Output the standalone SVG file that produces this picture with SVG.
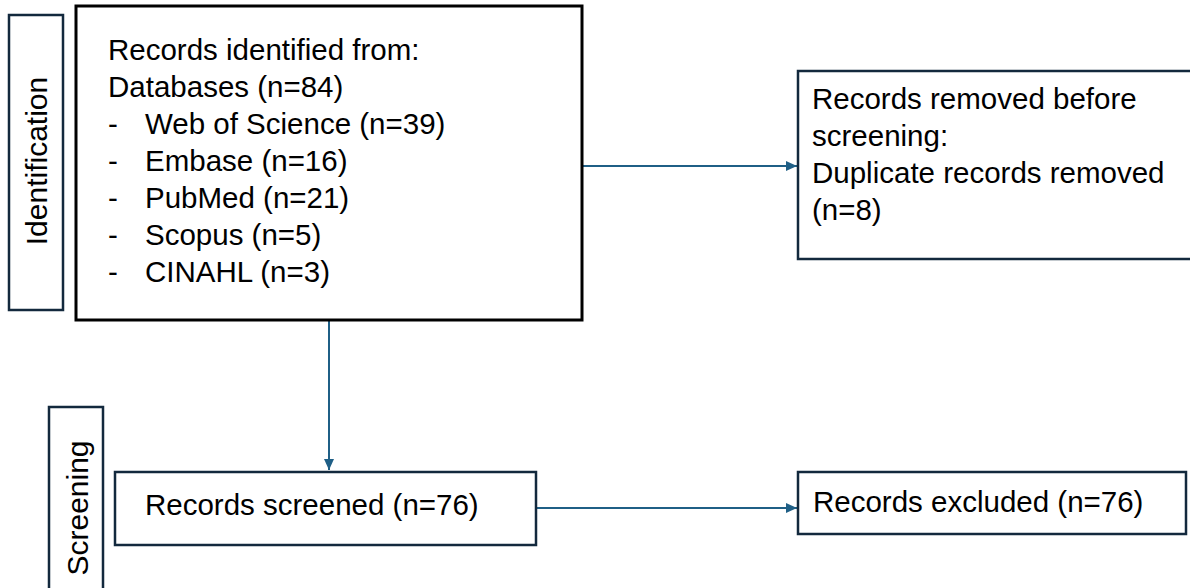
<svg xmlns="http://www.w3.org/2000/svg" width="1190" height="588" viewBox="0 0 1190 588">
<defs>
<style>
.t{font-family:"Liberation Sans",Arial,sans-serif;font-size:29.5px;fill:#000}
.s{font-family:"Liberation Sans",Arial,sans-serif;font-size:30px;fill:#000}
.nb{fill:#fff;stroke:#13293d;stroke-width:2.5}
.mb{fill:#fff;stroke:#000;stroke-width:3}
.c{fill:none;stroke:#1f5f86;stroke-width:2}
</style>
<marker id="ah" markerUnits="userSpaceOnUse" markerWidth="12" markerHeight="10" refX="11" refY="5" orient="auto">
<path d="M0,0 L11,5 L0,10 Z" fill="#1f5f86"/>
</marker>
</defs>
<rect width="1190" height="588" fill="#fff"/>
<g id="connectors">
<path class="c" d="M329,320 V470" marker-end="url(#ah)"/>
<path class="c" d="M582,166 H797" marker-end="url(#ah)"/>
<path class="c" d="M536,508 H797" marker-end="url(#ah)"/>
</g>
<g id="identification-label">
<rect class="nb" x="9" y="15" width="54" height="295"/>
<text class="s" transform="translate(47,161) rotate(-90)" text-anchor="middle">Identification</text>
</g>
<g id="records-identified">
<rect class="mb" x="76" y="6" width="506" height="314"/>
<text class="t" x="108" y="60">Records identified from:</text>
<text class="t" x="108" y="97">Databases (n=84)</text>
<text class="t" x="108" y="134">-</text><text class="t" x="145" y="134">Web of Science (n=39)</text>
<text class="t" x="108" y="171">-</text><text class="t" x="145" y="171">Embase (n=16)</text>
<text class="t" x="108" y="208">-</text><text class="t" x="145" y="208">PubMed (n=21)</text>
<text class="t" x="108" y="245">-</text><text class="t" x="145" y="245">Scopus (n=5)</text>
<text class="t" x="108" y="282">-</text><text class="t" x="145" y="282">CINAHL (n=3)</text>
</g>
<g id="records-removed">
<rect class="nb" x="798" y="71" width="396" height="188"/>
<text class="t" x="812" y="109">Records removed before</text>
<text class="t" x="812" y="146">screening:</text>
<text class="t" x="812" y="183">Duplicate records removed</text>
<text class="t" x="812" y="220">(n=8)</text>
</g>
<g id="screening-label">
<rect class="nb" x="49" y="407" width="54" height="183"/>
<text class="s" transform="translate(88,508) rotate(-90)" text-anchor="middle">Screening</text>
</g>
<g id="records-screened">
<rect class="nb" x="115" y="472" width="421" height="73"/>
<text class="t" x="145" y="515">Records screened (n=76)</text>
</g>
<g id="records-excluded">
<rect class="nb" x="798" y="472" width="388" height="62"/>
<text class="t" x="813" y="512">Records excluded (n=76)</text>
</g>
</svg>
